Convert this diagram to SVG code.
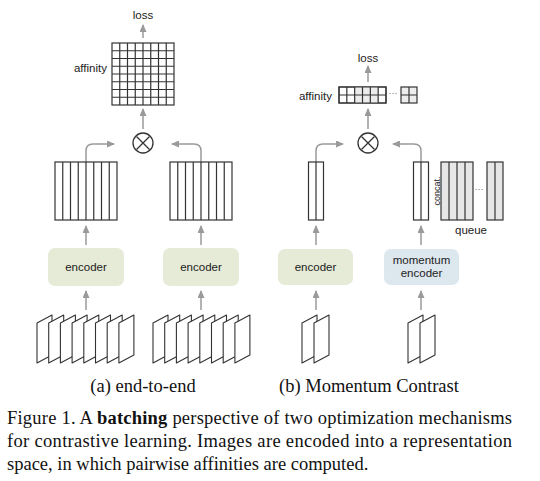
<svg xmlns="http://www.w3.org/2000/svg" xmlns:xlink="http://www.w3.org/1999/xlink" width="540" height="481" viewBox="0 0 540 481">
<style>
.lbl{font-family:"Liberation Sans",Arial,sans-serif;font-size:11.5px;fill:#222}
.cap{font-family:"Liberation Serif","Times New Roman",serif;font-size:18.5px;fill:#111}
.grid{fill:#fff;stroke:#333;stroke-width:1.2}
.gq{fill:#e6e6e6;stroke:#333;stroke-width:1.2}
.gl{fill:none;stroke:#333;stroke-width:1.2}
.arr{fill:none;stroke:#9a9a9a;stroke-width:1.5;marker-end:url(#ah)}
.enc{fill:#e5ebd6}
.menc{fill:#dde7ee}
.img{fill:#fff;stroke:#333;stroke-width:1.1;stroke-linejoin:round}
.dots{font-family:"Liberation Sans",Arial,sans-serif;font-size:9px;fill:#666}
</style>
<defs>
<marker id="ah" markerUnits="userSpaceOnUse" markerWidth="8" markerHeight="7" refX="7" refY="3.5" orient="auto">
<path d="M0,0 L8,3.5 L0,7 Z" fill="#9a9a9a"/>
</marker>
<path id="pg" class="img" d="M0,8 L15,0 L15,40 L0,48 Z"/>
<g id="otimes">
<circle r="10" fill="#fff" stroke="#333" stroke-width="1.3"/>
<path d="M-6.5,-6.5 L6.5,6.5 M-6.5,6.5 L6.5,-6.5" stroke="#333" stroke-width="1.3"/>
</g>
</defs>
<rect width="540" height="481" fill="#fff"/>

<g id="connectors">
<!-- (a) -->
<line class="arr" x1="143" y1="38" x2="143" y2="25"/>
<line class="arr" x1="143" y1="129" x2="143" y2="109"/>
<path class="arr" d="M86,162 V151 Q86,144 93,144 H114"/>
<path class="arr" d="M201,162 V151 Q201,144 194,144 H172"/>
<line class="arr" x1="86" y1="245" x2="86" y2="226"/>
<line class="arr" x1="201" y1="245" x2="201" y2="226"/>
<line class="arr" x1="86" y1="310" x2="86" y2="291"/>
<line class="arr" x1="201" y1="310" x2="201" y2="291"/>
<!-- (b) -->
<line class="arr" x1="368" y1="82" x2="368" y2="66"/>
<line class="arr" x1="368" y1="129" x2="368" y2="109"/>
<path class="arr" d="M316,162 V151 Q316,144 323,144 H343"/>
<path class="arr" d="M421,162 V151 Q421,144 414,144 H393"/>
<line class="arr" x1="316" y1="245" x2="316" y2="226"/>
<line class="arr" x1="421" y1="245" x2="421" y2="226"/>
<line class="arr" x1="316" y1="310" x2="316" y2="291"/>
<line class="arr" x1="421" y1="310" x2="421" y2="291"/>
</g>

<!-- ===== (a) end-to-end ===== -->
<g id="a-loss"><text class="lbl" x="143" y="19" text-anchor="middle">loss</text></g>
<g id="a-affinity">
<text class="lbl" x="107" y="72" text-anchor="end">affinity</text>
<rect class="grid" x="112" y="43" width="62" height="62"/>
<path class="gl" d="M119.75,43V105M127.5,43V105M135.25,43V105M143,43V105M150.75,43V105M158.5,43V105M166.25,43V105M112,50.75H174M112,58.5H174M112,66.25H174M112,74H174M112,81.75H174M112,89.5H174M112,97.25H174"/>
</g>
<g id="a-mult"><use xlink:href="#otimes" x="143" y="143"/></g>
<g id="a-q">
<rect class="grid" x="55" y="162" width="62" height="58"/>
<path class="gl" d="M62.75,162V220M70.5,162V220M78.25,162V220M86,162V220M93.75,162V220M101.5,162V220M109.25,162V220"/>
</g>
<g id="a-k">
<rect class="grid" x="170" y="162" width="62" height="58"/>
<path class="gl" d="M177.75,162V220M185.5,162V220M193.25,162V220M201,162V220M208.75,162V220M216.5,162V220M224.25,162V220"/>
</g>
<g id="a-encoder-q">
<rect class="enc" x="48" y="248" width="76" height="38" rx="7"/>
<text class="lbl" x="86" y="271" text-anchor="middle">encoder</text>
</g>
<g id="a-encoder-k">
<rect class="enc" x="163" y="248" width="76" height="38" rx="7"/>
<text class="lbl" x="201" y="271" text-anchor="middle">encoder</text>
</g>
<g id="a-images-q">
<use xlink:href="#pg" x="37" y="315"/>
<use xlink:href="#pg" x="48.7" y="315"/>
<use xlink:href="#pg" x="60.4" y="315"/>
<use xlink:href="#pg" x="72.1" y="315"/>
<use xlink:href="#pg" x="83.8" y="315"/>
<use xlink:href="#pg" x="95.5" y="315"/>
<use xlink:href="#pg" x="107.2" y="315"/>
<use xlink:href="#pg" x="118.9" y="315"/>
</g>
<g id="a-images-k">
<use xlink:href="#pg" x="153" y="315"/>
<use xlink:href="#pg" x="164.7" y="315"/>
<use xlink:href="#pg" x="176.4" y="315"/>
<use xlink:href="#pg" x="188.1" y="315"/>
<use xlink:href="#pg" x="199.8" y="315"/>
<use xlink:href="#pg" x="211.5" y="315"/>
<use xlink:href="#pg" x="223.2" y="315"/>
<use xlink:href="#pg" x="234.9" y="315"/>
</g>

<!-- ===== (b) MoCo ===== -->
<g id="b-loss"><text class="lbl" x="368" y="62" text-anchor="middle">loss</text></g>
<g id="b-affinity">
<text class="lbl" x="332" y="100" text-anchor="end">affinity</text>
<rect class="grid" x="339" y="87" width="47" height="16"/>
<rect x="354.67" y="87" width="23.5" height="16" fill="#ececec"/>
<path class="gl" d="M339,87H386V103H339Z M346.83,87V103M354.67,87V103M362.5,87V103M370.33,87V103M378.17,87V103M339,95H386"/>
<text class="dots" x="393" y="96" text-anchor="middle">···</text>
<rect class="gq" x="401" y="87" width="16" height="16" style="fill:#ededed"/>
<path class="gl" d="M409,87V103M401,95H417"/>
</g>
<g id="b-mult"><use xlink:href="#otimes" x="368" y="143"/></g>
<g id="b-q">
<rect class="grid" x="308.5" y="162" width="15" height="58"/>
<path class="gl" d="M316,162V220"/>
</g>
<g id="b-k">
<rect class="grid" x="413.5" y="162" width="15" height="58"/>
<path class="gl" d="M421,162V220"/>
</g>
<g id="b-concat"><text class="lbl" style="font-size:9px" transform="translate(440,191) rotate(-90)" text-anchor="middle">concat.</text></g>
<g id="b-queue">
<rect class="gq" x="441" y="162" width="32" height="58"/>
<path class="gl" d="M449,162V220M457,162V220M465,162V220"/>
<text class="dots" x="479" y="192" text-anchor="middle">···</text>
<rect class="gq" x="487" y="162" width="16" height="58"/>
<path class="gl" d="M495,162V220"/>
<text class="lbl" x="471" y="234" text-anchor="middle">queue</text>
</g>
<g id="b-encoder">
<rect class="enc" x="278" y="249" width="75" height="36" rx="7"/>
<text class="lbl" x="315.5" y="271" text-anchor="middle">encoder</text>
</g>
<g id="b-momentum-encoder">
<rect class="menc" x="384" y="249" width="75" height="36" rx="7"/>
<text class="lbl" x="421.5" y="264" text-anchor="middle">momentum</text>
<text class="lbl" x="421.5" y="277" text-anchor="middle">encoder</text>
</g>
<g id="b-images-q">
<use xlink:href="#pg" x="302" y="315"/>
<use xlink:href="#pg" x="314" y="315"/>
</g>
<g id="b-images-k">
<use xlink:href="#pg" x="408" y="315"/>
<use xlink:href="#pg" x="420" y="315"/>
</g>

<!-- captions -->
<text class="cap" x="143" y="392" text-anchor="middle">(a) end-to-end</text>
<text class="cap" x="369" y="392" text-anchor="middle">(b) Momentum Contrast</text>
<text class="cap" x="7" y="424" textLength="505" lengthAdjust="spacing">Figure 1. A <tspan font-weight="bold">batching</tspan> perspective of two optimization mechanisms</text>
<text class="cap" x="7" y="447" textLength="505" lengthAdjust="spacing">for contrastive learning. Images are encoded into a representation</text>
<text class="cap" x="7" y="470">space, in which pairwise affinities are computed.</text>
</svg>
